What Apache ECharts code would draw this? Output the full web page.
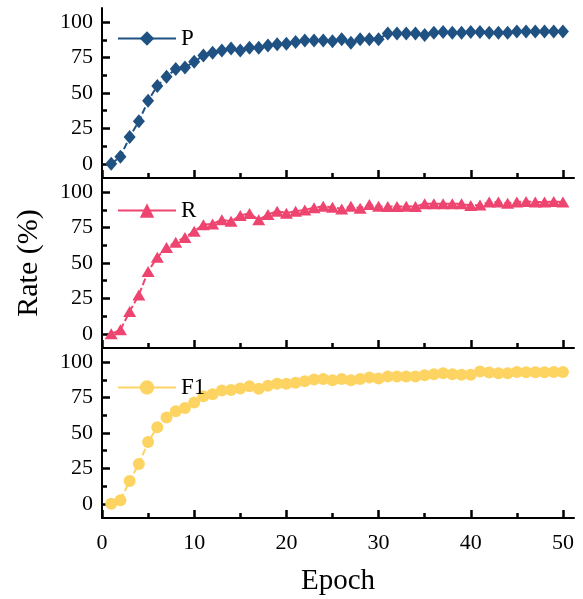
<!DOCTYPE html>
<html>
<head>
<meta charset="utf-8">
<script src="https://cdn.jsdelivr.net/npm/echarts@6/dist/echarts.min.js"></script>
<style>
html,body{margin:0;padding:0;background:#fff;}
#c{width:583px;height:599px;}
</style>
</head>
<body>
<div id="c"></div>
<script>
var epochs = [1,2,3,4,5,6,7,8,9,10,11,12,13,14,15,16,17,18,19,20,21,22,23,24,25,26,27,28,29,30,31,32,33,34,35,36,37,38,39,40,41,42,43,44,45,46,47,48,49,50];
var pValues = [0,5,19,30,44.5,55,61.5,67,68,72,76.5,78.5,80,81.5,80,82,82,83.5,84.5,84.7,86,87,87,87,86.5,88,85.5,88,88,88,92,92,92,92,91,92.5,93,92.5,92.5,93,93,92.5,92.5,92.5,93.5,93.5,93.5,93.5,93.5,93.5];
var rValues = [0,2.8,15.8,27.5,44,54,61,64.7,68,72.4,77,77.6,80.5,79.5,83.5,85,80.5,84.2,86.6,85.2,86.6,87.5,89,90,89.4,88.2,90,88.7,91.3,90,89.8,89.8,90,89.8,91.8,91.8,91.8,91.8,91.8,90.6,91,93,93,92.2,93,93.4,93,93,93.4,93];
var f1Values = [0,2.6,16.2,28.2,43.7,54.1,60.9,65.4,67.7,71.5,76,77.4,80,80.4,81.4,83,81.2,83.3,84.7,84.7,85.4,86.5,87.7,88.2,87.2,88.2,87.2,88.2,89.1,88.4,89.8,89.8,89.8,89.8,90.8,91.5,92.2,91.5,91.2,91.2,93.4,92.7,92.2,92.2,93.1,92.9,92.9,92.9,93.1,93.1];
var seriesNames = ['P','R','F1'];
var xMajorTicks = [0,10,20,30,40,50];
var xMinorTicks = [5,15,25,35,45];
var yMajorTicks = [0,25,50,75,100];
var yMinorTicks = [12.5,37.5,62.5,87.5];

var colors = ['#1f5282','#ee4570','#fdd462'];
var symbols = ['diamond','triangle','circle'];
var symbolSizes = [[12,14],[13,11],[12,12]];
var allValues = [pValues, rValues, f1Values];
var font = '"Liberation Serif","Times New Roman",serif';

var grids = [], xAxes = [], yAxes = [], series = [], legends = [];
var tops = [8,178,348];
var legendTops = [22,194,371];
for (var g = 0; g < 3; g++) {
  grids.push({left: 102, top: tops[g], width: 472, height: 170});
  var isLast = g === 2;
  xAxes.push({
    type: 'value', gridIndex: g, position: 'bottom', min: 0, max: 51.2,
    axisLine: {show: true, onZero: false, lineStyle: {color: '#000', width: 2}},
    axisTick: {show: true, inside: true, length: 8, customValues: xMajorTicks, lineStyle: {color: '#000', width: 2.5}},
    axisLabel: {show: isLast, customValues: xMajorTicks, margin: 14, color: '#000', fontFamily: font, fontSize: 22},
    splitLine: {show: false},
    name: isLast ? 'Epoch' : '', nameLocation: 'middle', nameGap: 49,
    nameTextStyle: {color: '#000', fontFamily: font, fontSize: 29}
  });
  xAxes.push({
    type: 'value', gridIndex: g, position: 'bottom', min: 0, max: 51.2,
    axisLine: {show: false, onZero: false},
    axisTick: {show: true, inside: true, length: 5, customValues: xMinorTicks, lineStyle: {color: '#000', width: 2.5}},
    axisLabel: {show: false},
    splitLine: {show: false}
  });
  yAxes.push({
    type: 'value', gridIndex: g, position: 'left', min: -10, max: 110,
    axisLine: {show: true, onZero: false, lineStyle: {color: '#000', width: 2}},
    axisTick: {show: true, inside: true, length: 8, customValues: yMajorTicks, lineStyle: {color: '#000', width: 2.5}},
    axisLabel: {show: true, customValues: yMajorTicks, margin: 9, color: '#000', fontFamily: font, fontSize: 22},
    splitLine: {show: false},
    name: g === 1 ? 'Rate (%)' : '', nameLocation: 'middle', nameGap: 58, nameRotate: 90,
    nameTextStyle: {color: '#000', fontFamily: font, fontSize: 30}
  });
  yAxes.push({
    type: 'value', gridIndex: g, position: 'left', min: -10, max: 110,
    axisLine: {show: false, onZero: false},
    axisTick: {show: true, inside: true, length: 5, customValues: yMinorTicks, lineStyle: {color: '#000', width: 2.5}},
    axisLabel: {show: false},
    splitLine: {show: false}
  });
  var data = [];
  for (var i = 0; i < epochs.length; i++) data.push([epochs[i], allValues[g][i]]);
  series.push({
    name: seriesNames[g], type: 'line', xAxisIndex: 2*g, yAxisIndex: 2*g,
    data: data, symbol: symbols[g], symbolSize: symbolSizes[g], showAllSymbol: true,
    itemStyle: {color: colors[g]},
    lineStyle: {color: colors[g], width: 2, type: [7,3]},
    animation: false
  });
  legends.push({
    data: [seriesNames[g]], left: 112, top: legendTops[g],
    itemWidth: 58, itemHeight: 18, itemGap: 5,
    textStyle: {color: '#000', fontFamily: font, fontSize: 23},
    lineStyle: {type: 'solid', width: 2}
  });
}

var chart = echarts.init(document.getElementById('c'), null, {renderer: 'canvas'});
chart.setOption({
  animation: false,
  backgroundColor: '#fff',
  grid: grids, xAxis: xAxes, yAxis: yAxes, series: series, legend: legends
});
</script>
</body>
</html>
